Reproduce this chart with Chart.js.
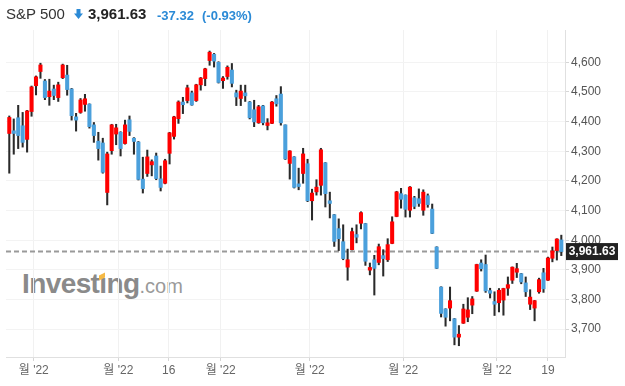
<!DOCTYPE html>
<html>
<head>
<meta charset="utf-8">
<script src="https://cdn.jsdelivr.net/npm/chart.js"></script>
<style>
  body { margin: 0; background: #fff; }
  #wrap { position: relative; width: 625px; height: 386px; overflow: hidden; font-family: "Liberation Sans", Arial, sans-serif; }
  #wrap canvas { position: absolute; left: 0; top: 0; }
  .h { position: absolute; white-space: nowrap; line-height: 15px; }
  #name { left: 6px; top: 6px; font-size: 15px; color: #333; }
  #arrow { left: 74px; top: 9px; }
  #price { left: 88px; top: 6px; font-size: 15px; font-weight: bold; color: #222; }
  #chg { left: 157px; top: 8px; font-size: 13px; font-weight: bold; color: #2b8ad6; }
  #pct { left: 202px; top: 8px; font-size: 13px; font-weight: bold; color: #2b8ad6; }
  #mark { position: absolute; left: 22px; top: 268px; white-space: nowrap; color: #8a8a8a; }
  #mark b { font-size: 28px; letter-spacing: -0.6px; }
  #mark span { font-size: 20px; color: #9a9a9a; }
  #mark i { font-style: normal; position: relative; }
  #mark i::after { content: ""; position: absolute; left: 0px; top: 6px; width: 6px; height: 5px; background: #f5b945; transform: skewY(-25deg); }
</style>
</head>
<body>
<div id="wrap">
  <div id="mark"><b>Invest<i>ı</i>ng</b><span>.com</span></div>
  <canvas id="candles" width="625" height="386"></canvas>
  <div class="h" id="name">S&amp;P 500</div>
  <svg class="h" id="arrow" width="9" height="10"><path d="M2.5 0h4v4.5h2.5L4.5 10 0 4.5h2.5z" fill="#2b8ad6"/></svg>
  <div class="h" id="price">3,961.63</div>
  <div class="h" id="chg">-37.32</div>
  <div class="h" id="pct">(-0.93%)</div>
</div>
<script>
// daily candles
var opens = [4360, 4369, 4413, 4386, 4340, 4434, 4521, 4569, 4537, 4484,
  4510, 4481, 4548, 4557, 4510, 4416, 4431, 4458, 4459, 4389,
  4334, 4328, 4161, 4302, 4358, 4364, 4326, 4406, 4344, 4331,
  4206, 4225, 4254, 4284, 4207, 4192, 4293, 4350, 4410, 4466,
  4471, 4497, 4471, 4524, 4545, 4606, 4627, 4600, 4538, 4552,
  4574, 4497, 4478, 4497, 4466, 4440, 4396, 4453, 4387, 4394,
  4477, 4493, 4389, 4259, 4281, 4190, 4225, 4258, 4133, 4163,
  4185, 4261, 4133, 4086, 4039, 3995, 3909, 3968, 4019, 4057,
  4056, 3899, 3934, 3925, 3948, 3934, 3989, 4080, 4157, 4152,
  4101, 4143, 4140, 4101, 4150, 4105, 3977, 3842, 3768, 3771,
  3735, 3673, 3720, 3740, 3781, 3828, 3923, 3918, 3830, 3793,
  3789, 3798, 3838, 3865, 3892, 3887, 3856, 3784, 3771, 3826,
  3890, 3865, 3939, 3965, 4001];
var highs = [4419, 4409, 4455, 4431, 4438, 4520, 4554, 4597, 4542, 4543,
  4523, 4533, 4594, 4590, 4512, 4428, 4478, 4492, 4460, 4397,
  4364, 4344, 4297, 4391, 4391, 4366, 4405, 4419, 4346, 4333,
  4280, 4304, 4271, 4294, 4250, 4273, 4364, 4418, 4470, 4482,
  4523, 4503, 4526, 4549, 4580, 4638, 4630, 4602, 4552, 4588,
  4596, 4506, 4523, 4523, 4468, 4472, 4455, 4455, 4410, 4468,
  4488, 4518, 4389, 4302, 4282, 4243, 4310, 4273, 4172, 4204,
  4310, 4262, 4162, 4087, 4072, 4052, 3970, 4041, 4052, 4096,
  4057, 3923, 3949, 3987, 3968, 4005, 4079, 4165, 4175, 4153,
  4181, 4148, 4173, 4170, 4156, 4122, 3978, 3843, 3769, 3842,
  3736, 3712, 3784, 3806, 3810, 3919, 3934, 3950, 3838, 3826,
  3837, 3838, 3876, 3910, 3922, 3888, 3876, 3833, 3797, 3872,
  3905, 3943, 3977, 4005, 4017];
var lows = [4226, 4290, 4309, 4314, 4297, 4418, 4490, 4546, 4474, 4455,
  4474, 4468, 4545, 4489, 4405, 4368, 4428, 4435, 4378, 4330,
  4270, 4226, 4119, 4290, 4322, 4284, 4324, 4353, 4290, 4203,
  4159, 4215, 4217, 4204, 4166, 4190, 4257, 4341, 4394, 4427,
  4463, 4455, 4468, 4506, 4521, 4590, 4584, 4530, 4512, 4543,
  4517, 4454, 4454, 4468, 4409, 4383, 4394, 4389, 4372, 4393,
  4452, 4388, 4272, 4206, 4176, 4170, 4192, 4130, 4068, 4152,
  4152, 4112, 4075, 3979, 3965, 3934, 3865, 3967, 3991, 4038,
  3915, 3883, 3815, 3917, 3879, 3928, 3988, 4079, 4108, 4078,
  4078, 4106, 4114, 4084, 4111, 4022, 3904, 3741, 3710, 3728,
  3647, 3644, 3719, 3725, 3752, 3827, 3896, 3824, 3805, 3746,
  3758, 3747, 3814, 3854, 3874, 3853, 3810, 3766, 3728, 3821,
  3824, 3864, 3927, 3933, 3948];
var closes = [4414, 4360, 4353, 4330, 4436, 4517, 4551, 4591, 4481, 4503,
  4488, 4524, 4591, 4508, 4420, 4405, 4473, 4477, 4383, 4353,
  4309, 4229, 4291, 4389, 4379, 4309, 4389, 4367, 4333, 4205,
  4174, 4281, 4265, 4208, 4178, 4268, 4362, 4416, 4466, 4457,
  4514, 4456, 4524, 4547, 4578, 4634, 4604, 4532, 4547, 4583,
  4529, 4483, 4503, 4487, 4413, 4399, 4450, 4396, 4396, 4466,
  4460, 4396, 4274, 4301, 4178, 4181, 4291, 4133, 4159, 4179,
  4305, 4157, 4124, 3996, 4005, 3938, 3934, 4029, 4010, 4093,
  3929, 3908, 3905, 3978, 3938, 3985, 4062, 4163, 4138, 4104,
  4179, 4114, 4124, 4162, 4120, 4023, 3905, 3753, 3740, 3796,
  3673, 3683, 3768, 3765, 3802, 3918, 3904, 3829, 3821, 3784,
  3831, 3837, 3850, 3909, 3904, 3859, 3826, 3808, 3796, 3867,
  3836, 3940, 3964, 4004, 3961.63];

var xTickPos = [5.5, 24.5, 35.8, 47.5, 67.5, 88.5, 109.5, 121];
var xTickText = ["월 '22", "월 '22", "16", "월 '22", "월 '22", "월 '22", "월 '22", "19"];
var yTicks = [3700, 3800, 3900, 4000, 4100, 4200, 4300, 4400, 4500, 4600];
var lastPrice = 3961.63;

var upColor = '#ff0000';
var downColor = '#4ba0dc';

var wickData = [], bodyData = [], bodyColors = [];
for (var i = 0; i < opens.length; i++) {
  wickData.push({ x: i, y: [lows[i], highs[i]] });
  bodyData.push({ x: i, y: [opens[i], closes[i]] });
  bodyColors.push(closes[i] >= opens[i] ? upColor : downColor);
}

// dashed last price line + black price tag
var lastLine = {
  id: 'lastLine',
  beforeDatasetsDraw: function (chart) {
    var ctx = chart.ctx, a = chart.chartArea;
    var y = chart.scales.y.getPixelForValue(lastPrice);
    ctx.save();
    ctx.strokeStyle = '#9a9a9a';
    ctx.lineWidth = 2;
    ctx.setLineDash([5, 3]);
    ctx.beginPath();
    ctx.moveTo(a.left, y);
    ctx.lineTo(a.right, y);
    ctx.stroke();
    ctx.restore();
  },
  afterDraw: function (chart) {
    var ctx = chart.ctx, a = chart.chartArea;
    var y = chart.scales.y.getPixelForValue(lastPrice);
    ctx.save();
    ctx.fillStyle = '#222';
    ctx.fillRect(a.right + 1, y - 8.5, 52, 17);
    ctx.fillStyle = '#fff';
    ctx.font = 'bold 12px "Liberation Sans", Arial, sans-serif';
    ctx.textAlign = 'center';
    ctx.textBaseline = 'middle';
    ctx.fillText(lastPrice.toLocaleString('en-US'), a.right + 27, y + 0.5);
    ctx.restore();
  }
};

new Chart(document.getElementById('candles'), {
  type: 'bar',
  data: {
    datasets: [{
      label: 'wick',
      data: wickData,
      backgroundColor: '#2a2a2a',
      barThickness: 1.4,
      grouped: false,
      order: 2
    }, {
      label: 'body',
      data: bodyData,
      backgroundColor: bodyColors,
      barThickness: 3.4,
      minBarLength: 1,
      grouped: false,
      order: 1
    }]
  },
  options: {
    responsive: false,
    animation: false,
    layout: { padding: { left: 6, top: 30, right: 0, bottom: 0 } },
    plugins: { legend: { display: false }, tooltip: { enabled: false } },
    scales: {
      x: {
        type: 'linear',
        offset: false,
        min: -0.74,
        max: 124.83,
        afterFit: function (s) { s.height = 29; },
        afterBuildTicks: function (s) { s.ticks = xTickPos.map(function (v) { return { value: v }; }); },
        grid: { offset: false, color: '#f1f1f1', tickColor: '#d6d6d6', tickLength: 4 },
        border: { color: '#e0e0e0' },
        ticks: {
          autoSkip: false,
          maxRotation: 0,
          padding: 2,
          color: '#666',
          font: { size: 12, family: '"Liberation Sans", "Noto Sans CJK KR", sans-serif' },
          callback: function (v, i) { return xTickText[i]; }
        }
      },
      y: {
        position: 'right',
        min: 3606,
        max: 4709,
        afterFit: function (s) { s.width = 60; },
        afterBuildTicks: function (s) { s.ticks = yTicks.map(function (v) { return { value: v }; }); },
        grid: { color: '#f3f3f3', tickColor: '#d6d6d6', tickLength: 4 },
        border: { color: '#e0e0e0' },
        ticks: {
          padding: 2,
          color: '#555',
          font: { size: 12, family: '"Liberation Sans", Arial, sans-serif' },
          callback: function (v) { return v.toLocaleString('en-US'); }
        }
      }
    }
  },
  plugins: [lastLine]
});
</script>
</body>
</html>
